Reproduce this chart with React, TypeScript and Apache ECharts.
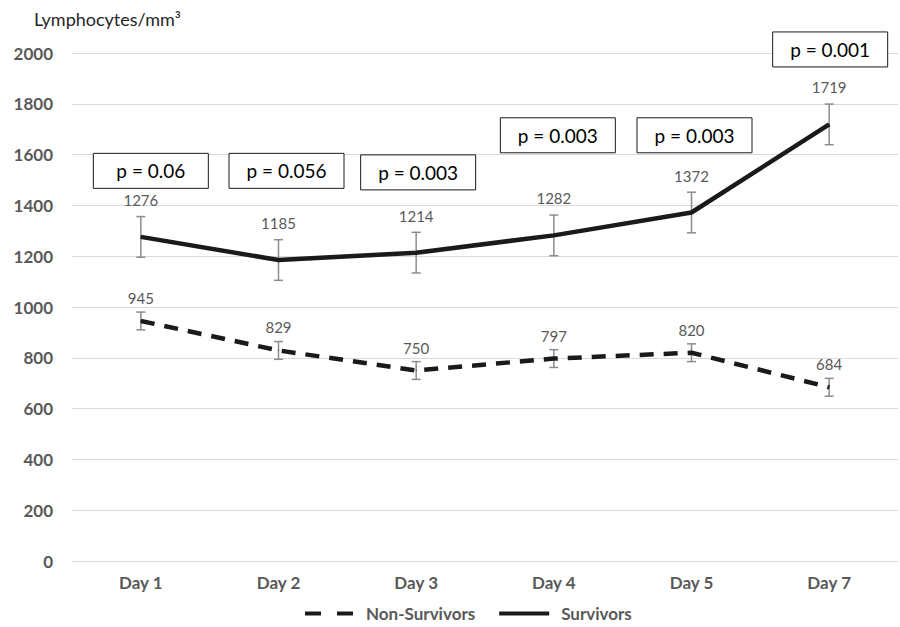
import React, { useEffect, useRef } from "react";
import * as echarts from "echarts";

const days = ["Day 1", "Day 2", "Day 3", "Day 4", "Day 5", "Day 7"];
const survivors = [1276, 1185, 1214, 1282, 1372, 1719];
const survivorsErr = [80, 80, 80, 80, 80, 80];
const nonSurvivors = [945, 829, 750, 797, 820, 684];
const nonSurvivorsErr = [35, 35, 35, 35, 35, 35];
const pLabels = ["p = 0.06", "p = 0.056", "p = 0.003", "p = 0.003", "p = 0.003", "p = 0.001"];
const pLevels = [1536, 1536, 1530, 1676, 1676, 2014];

const FONT = "Lato, 'Open Sans', sans-serif";
const GRAY = "#595959";

function errorSeries(name: string, values: number[], errs: number[]) {
  return {
    name,
    type: "custom",
    z: 1,
    silent: true,
    data: values.map((v, i) => [i, v - errs[i], v + errs[i]]),
    renderItem: (params: any, api: any) => {
      const x = api.value(0);
      const lo = api.coord([x, api.value(1)]);
      const hi = api.coord([x, api.value(2)]);
      const cap = 4.5;
      const style = { stroke: "#8c8c8c", lineWidth: 1.5 };
      return {
        type: "group",
        children: [
          { type: "line", shape: { x1: lo[0], y1: lo[1], x2: hi[0], y2: hi[1] }, style },
          { type: "line", shape: { x1: lo[0] - cap, y1: lo[1], x2: lo[0] + cap, y2: lo[1] }, style },
          { type: "line", shape: { x1: hi[0] - cap, y1: hi[1], x2: hi[0] + cap, y2: hi[1] }, style },
        ],
      };
    },
  };
}

export default function App() {
  const ref = useRef<HTMLDivElement>(null);
  useEffect(() => {
    const chart = echarts.init(ref.current!, null, { renderer: "svg" });
    chart.setOption({
      animation: false,
      textStyle: { fontFamily: FONT },
      grid: { left: 72, right: 2, top: 53, bottom: 66 },
      legend: {
        data: [
          { name: "Non-Survivors", icon: "path://M0,0H16V4H0Z M32,0H48V4H32Z" },
          { name: "Survivors", icon: "path://M0,0H52V4H0Z" },
        ],
        left: 300,
        top: 600,
        itemWidth: 50,
        itemHeight: 4,
        itemGap: 24,
        textStyle: {
          color: GRAY,
          fontSize: 17,
          fontWeight: "bold",
          fontFamily: FONT,
          padding: [0, 0, 0, 7],
        },
      },
      xAxis: {
        type: "category",
        data: days,
        axisLine: { show: false },
        axisTick: { show: false },
        axisLabel: { color: GRAY, fontSize: 17, fontWeight: "bold", margin: 13, fontFamily: FONT },
      },
      yAxis: {
        type: "value",
        min: 0,
        max: 2000,
        interval: 200,
        axisLine: { show: false },
        axisTick: { show: false },
        splitLine: { lineStyle: { color: "#d9d9d9", width: 1 } },
        axisLabel: {
          color: GRAY,
          fontSize: 17,
          fontWeight: "bold",
          margin: 19,
          fontFamily: FONT,
          formatter: (v: number) => String(v),
        },
      },
      series: [
        errorSeries("nsErr", nonSurvivors, nonSurvivorsErr),
        errorSeries("sErr", survivors, survivorsErr),
        {
          name: "Non-Survivors",
          type: "line",
          data: nonSurvivors,
          symbol: "circle",
          symbolSize: 1,
          z: 3,
          lineStyle: { color: "#1a1a1a", width: 4.5, type: [14, 10] },
          itemStyle: { color: "#1a1a1a" },
          label: { show: true, position: "top", distance: 15, color: GRAY, fontSize: 15, fontFamily: FONT },
        },
        {
          name: "Survivors",
          type: "line",
          data: survivors,
          symbol: "circle",
          symbolSize: 1,
          z: 3,
          lineStyle: { color: "#1a1a1a", width: 4.5 },
          itemStyle: { color: "#1a1a1a" },
          label: { show: true, position: "top", distance: 29, color: GRAY, fontSize: 15, fontFamily: FONT },
        },
      ],
    });

    const boxW = 115;
    const boxH = 35;
    const boxNudge = [10, 8, 2, 4, 3, 1];
    const graphics: any[] = [
      {
        type: "text",
        left: 34,
        top: 10,
        style: { text: "Lymphocytes/mm³", fontSize: 18, fill: "#262626", fontFamily: FONT },
      },
    ];
    pLabels.forEach((t, i) => {
      const [px, cy] = chart.convertToPixel({ gridIndex: 0 }, [i, pLevels[i]]) as number[];
      const cx = px + boxNudge[i];
      graphics.push({
        type: "rect",
        shape: { x: cx - boxW / 2, y: cy - boxH / 2, width: boxW, height: boxH },
        style: { fill: "#ffffff", stroke: "#1a1a1a", lineWidth: 1 },
        z: 10,
      });
      graphics.push({
        type: "text",
        x: cx,
        y: cy,
        z: 11,
        style: {
          text: t,
          fontSize: 19,
          fill: "#000000",
          fontFamily: FONT,
          align: "center",
          verticalAlign: "middle",
        },
      });
    });
    chart.setOption({ graphic: graphics });
    return () => chart.dispose();
  }, []);
  return (
    <div
      ref={ref}
      style={{ position: "fixed", left: 0, top: 0, width: 900, height: 627, background: "#fff" }}
    />
  );
}
